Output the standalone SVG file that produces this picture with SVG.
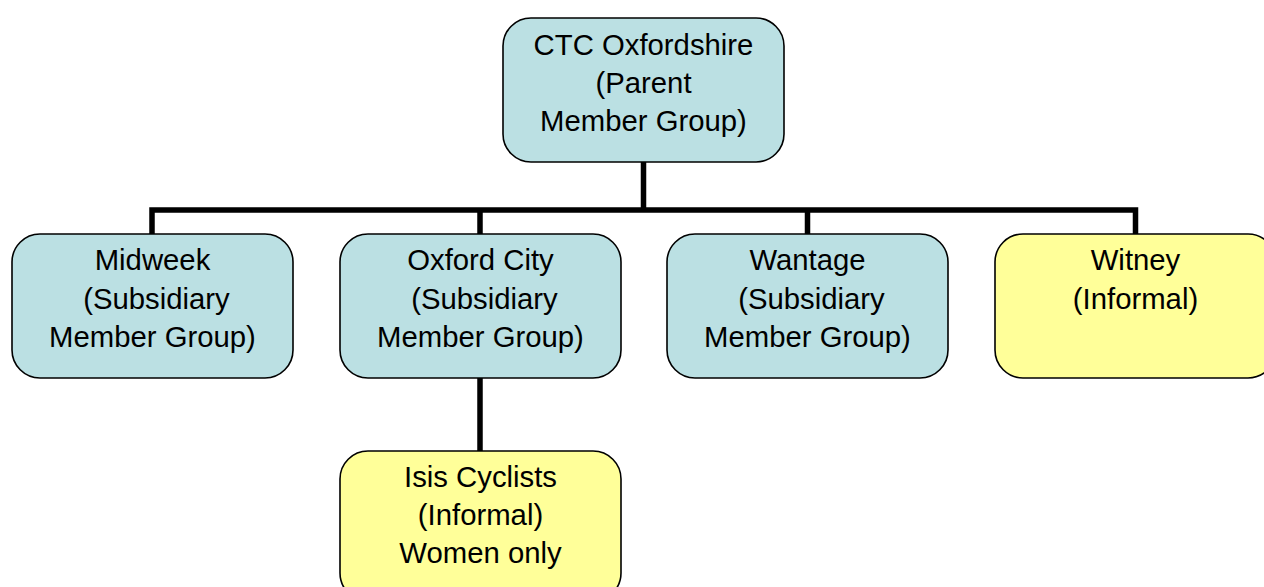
<svg xmlns="http://www.w3.org/2000/svg" width="1264" height="587" viewBox="0 0 1264 587">
<style>
.box{stroke:#000;stroke-width:1.6}
.blue{fill:#BBE0E3}
.yellow{fill:#FFFF99}
.t{font-family:"Liberation Sans",Arial,sans-serif;font-size:29.3px;fill:#000;text-anchor:middle}
.c{stroke:#000;stroke-width:5.5;fill:none;stroke-linecap:square}
</style>
<rect width="1264" height="587" fill="#fff"/>
<g id="connectors">
<path class="c" d="M643.5 163 V210 M152 234 V210 H1135.5 V234 M480 210 V234 M807.5 210 V234 M480 378 V450"/>
</g>
<g id="ctc">
<rect class="box blue" x="503" y="18" width="281" height="144" rx="28"/>
<text class="t" x="643.5" y="55">CTC Oxfordshire</text>
<text class="t" x="643.5" y="93">(Parent</text>
<text class="t" x="643.5" y="131">Member Group)</text>
</g>
<g id="midweek">
<rect class="box blue" x="12" y="234" width="281" height="144" rx="28"/>
<text class="t" x="152.5" y="270">Midweek</text>
<text class="t" x="156.5" y="309">(Subsidiary</text>
<text class="t" x="152.5" y="347">Member Group)</text>
</g>
<g id="oxford">
<rect class="box blue" x="340" y="234" width="281" height="144" rx="28"/>
<text class="t" x="480.5" y="270">Oxford City</text>
<text class="t" x="484.5" y="309">(Subsidiary</text>
<text class="t" x="480.5" y="347">Member Group)</text>
</g>
<g id="wantage">
<rect class="box blue" x="667" y="234" width="281" height="144" rx="28"/>
<text class="t" x="807.5" y="270">Wantage</text>
<text class="t" x="811.5" y="309">(Subsidiary</text>
<text class="t" x="807.5" y="347">Member Group)</text>
</g>
<g id="witney">
<rect class="box yellow" x="995" y="234" width="281" height="144" rx="28"/>
<text class="t" x="1135.5" y="270">Witney</text>
<text class="t" x="1135.5" y="309">(Informal)</text>
</g>
<g id="isis">
<rect class="box yellow" x="340" y="451" width="281" height="150" rx="28"/>
<text class="t" x="480.5" y="487">Isis Cyclists</text>
<text class="t" x="480.5" y="525">(Informal)</text>
<text class="t" x="480.5" y="563">Women only</text>
</g>
</svg>
